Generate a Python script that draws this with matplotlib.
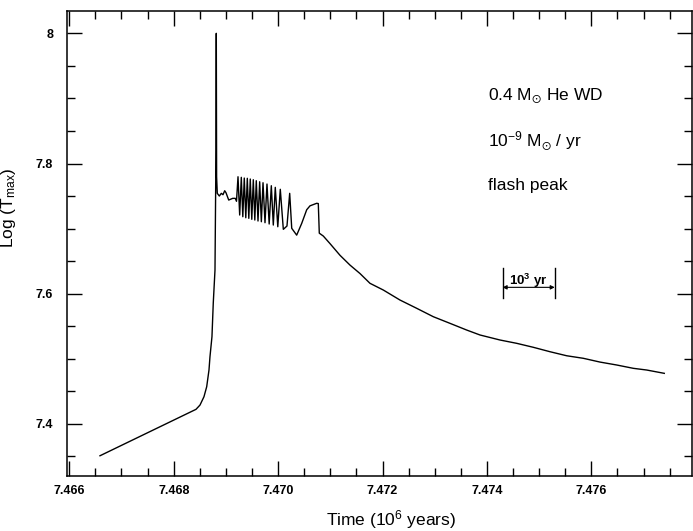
import matplotlib
matplotlib.use("Agg")
import matplotlib.pyplot as plt
from matplotlib.ticker import MultipleLocator, FormatStrFormatter, FuncFormatter

plt.rcParams["font.family"] = ["Liberation Sans", "DejaVu Sans"]
plt.rcParams["mathtext.fontset"] = "custom"
plt.rcParams["mathtext.rm"] = "Liberation Sans"
plt.rcParams["mathtext.it"] = "Liberation Sans:italic"
plt.rcParams["mathtext.bf"] = "Liberation Sans:bold"
plt.rcParams["mathtext.fallback"] = "stixsans"

# 升温段：线性加热 → 闪耀主峰
rise_t = [7.466588, 7.468427, 7.468504, 7.468580, 7.468632, 7.468676,
          7.468695, 7.468733, 7.468758, 7.468791, 7.468810, 7.468816]
rise_logt = [7.3511, 7.4224, 7.4290, 7.4418, 7.4571, 7.4828,
             7.5032, 7.5340, 7.5857, 7.6363, 7.8207, 8.0000]

# 主峰之后的小闪耀（振荡）
osc_t = [7.468822, 7.468835, 7.468874, 7.468912, 7.468944, 7.468977,
         7.469002, 7.469054, 7.469130, 7.469180, 7.469203,
         7.469232, 7.469264, 7.469295, 7.469324, 7.469352, 7.469381,
         7.469410, 7.469439, 7.469467, 7.469496, 7.469525, 7.469554,
         7.469582, 7.469615, 7.469647, 7.469679, 7.469711, 7.469749,
         7.469787, 7.469829, 7.469870, 7.469908, 7.469946, 7.469994,
         7.470042, 7.470100, 7.470170, 7.470222]
osc_logt = [7.7797, 7.7542, 7.7501, 7.7542, 7.7521, 7.7582,
            7.7551, 7.7439, 7.7465, 7.7465, 7.7420,
            7.7797, 7.7209, 7.7788, 7.7183, 7.7777, 7.7167,
            7.7773, 7.7158, 7.7762, 7.7143, 7.7751, 7.7132,
            7.7736, 7.7117, 7.7720, 7.7106, 7.7705, 7.7091,
            7.7685, 7.7071, 7.7659, 7.7055, 7.7634, 7.7029,
            7.7604, 7.6989, 7.7040, 7.7542]

# 最后一次小峰与冷却
decay_t = [7.470261, 7.470356, 7.470452, 7.470548, 7.470611, 7.470739,
           7.470770, 7.470789, 7.470866, 7.470994, 7.471186, 7.471377,
           7.471569, 7.471760, 7.472015, 7.472335, 7.472655, 7.472973,
           7.473293, 7.473613, 7.473868, 7.474251, 7.474571, 7.474889,
           7.475209, 7.475529, 7.475847, 7.476167, 7.476487, 7.476805,
           7.477061, 7.477398]
decay_logt = [7.7005, 7.6900, 7.7080, 7.7290, 7.7350, 7.7389,
              7.7385, 7.6930, 7.6886, 7.6770, 7.6590, 7.6440,
              7.6310, 7.6160, 7.6057, 7.5903, 7.5776, 7.5647,
              7.5545, 7.5442, 7.5366, 7.5289, 7.5238, 7.5177,
              7.5109, 7.5047, 7.5008, 7.4950, 7.4905, 7.4854,
              7.4828, 7.4777]

time = rise_t + osc_t + decay_t
log_tmax = rise_logt + osc_logt + decay_logt

# 比例尺：10^3 年（时间轴单位为 10^6 年）
scale_start = 7.4743
scale_len = 1e3 / 1e6

fig = plt.figure(figsize=(6.93, 5.31), dpi=100)
ax = fig.add_axes([67 / 693, 1 - 476 / 531, 625 / 693, 465 / 531])

ax.plot(time, log_tmax, color="black", linewidth=1.0)

ax.set_xlim(7.465956, 7.477929)
ax.set_ylim(7.320, 8.0343)

ax.xaxis.set_major_locator(MultipleLocator(0.002))
ax.xaxis.set_minor_locator(MultipleLocator(0.0005))
ax.yaxis.set_major_locator(MultipleLocator(0.2))
ax.yaxis.set_minor_locator(MultipleLocator(0.05))
ax.xaxis.set_major_formatter(FormatStrFormatter("%.3f"))
ax.yaxis.set_major_formatter(FuncFormatter(lambda v, _: "%g" % round(v, 3)))

ax.tick_params(which="both", direction="in", top=True, right=True,
               width=1.0, labelsize=9)
ax.tick_params(which="major", length=11)
ax.tick_params(which="minor", length=5.5)
ax.tick_params(axis="x", pad=6.5)
ax.tick_params(axis="y", pad=10)
for sp in ax.spines.values():
    sp.set_linewidth(1.1)
plt.setp(ax.get_xticklabels() + ax.get_yticklabels(), fontweight="bold")

ax.set_xlabel(r"Time (10$^6$ years)", fontsize=12.5)
ax.xaxis.set_label_coords(0.518, -0.068)
ax.set_ylabel(r"Log (T$_{\mathrm{max}}$)", fontsize=12.5)
ax.yaxis.set_label_coords(-0.078, 0.577)

# 模型说明
notes = [r"0.4 M$_{\odot}$ He WD", r"10$^{-9}$ M$_{\odot}$ / yr", "flash peak"]
for txt, yy in zip(notes, [0.807, 0.708, 0.615]):
    ax.text(0.674, yy, txt, transform=ax.transAxes, fontsize=12.5,
            ha="left", va="baseline")

# 比例尺
x0, x1 = scale_start, scale_start + scale_len
for xx in (x0, x1):
    ax.plot([xx, xx], [7.5929, 7.6399], color="black", linewidth=1.0)
ax.annotate("", xy=(x1, 7.6098), xytext=(x0, 7.6098),
            arrowprops=dict(arrowstyle="<|-|>", color="black", lw=0.8,
                            shrinkA=0, shrinkB=0, mutation_scale=6))
ax.text((x0 + x1) / 2, 7.6134, r"10$^{\mathbf{3}}$ yr", ha="center",
        va="baseline", fontsize=9.5, fontweight="bold")

fig.savefig("out.png", dpi=100)
